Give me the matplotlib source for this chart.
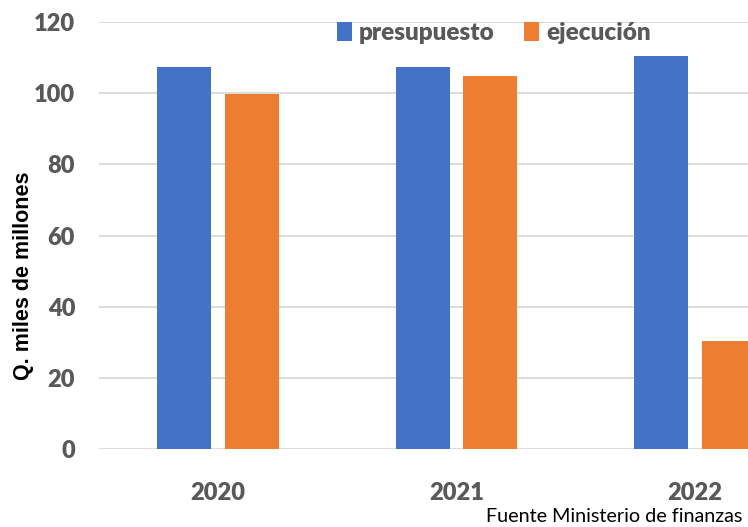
import numpy as np
import matplotlib.pyplot as plt

years = ["2020", "2021", "2022"]
presupuesto = [107.4, 107.4, 110.5]
ejecucion = [99.8, 104.8, 30.3]
yticks = [0, 20, 40, 60, 80, 100, 120]

blue = "#4472C4"
orange = "#ED7D31"
gray_text = "#595959"
narrow = ["Lato", "DejaVu Sans"]

fig = plt.figure(figsize=(7.48, 5.27), dpi=100)
# the original picture is cropped on the right, so the axes run past the figure edge
ax = fig.add_axes([0.132, 0.148, 0.9566, 0.810])

x = np.arange(len(years))
w = 0.226
off = 0.142
ax.bar(x - off, presupuesto, width=w, color=blue, label="presupuesto", zorder=3)
ax.bar(x + off, ejecucion, width=w, color=orange, label="ejecución", zorder=3)

ax.set_xlim(-0.5, len(years) - 0.5)
ax.set_ylim(0, 120)
ax.set_yticks(yticks)
ax.set_xticks(x)
ax.set_xticklabels(years)

for s in ax.spines.values():
    s.set_visible(False)
ax.grid(axis="y", color="#D9D9D9", linewidth=1.3, zorder=0)
ax.tick_params(axis="both", length=0, colors=gray_text)
ax.tick_params(axis="y", pad=17)
ax.tick_params(axis="x", pad=24)
for lab in ax.get_xticklabels() + ax.get_yticklabels():
    lab.set_family(narrow)
    lab.set_fontweight("heavy")
    lab.set_fontsize(17)
    lab.set_color(gray_text)

ax.set_ylabel("Q. miles de millones", fontsize=15.5, fontweight="bold",
              family=["Liberation Sans", "DejaVu Sans"], color="black")
ax.yaxis.set_label_coords(-0.090, 0.405)

leg = ax.legend(loc="center", bbox_to_anchor=(0.552, 0.974), ncol=2, frameon=False,
                handlelength=0.62, handleheight=0.8, handletextpad=0.3,
                columnspacing=1.2, prop={"family": narrow, "weight": "heavy", "size": 17.5})
for t in leg.get_texts():
    t.set_color(gray_text)

fig.text(486 / 748, 1 - 517 / 527, "Fuente Ministerio de finanzas", ha="left", va="center",
         fontsize=14.2, family=narrow, color="black")

fig.savefig("out.png", dpi=100)
